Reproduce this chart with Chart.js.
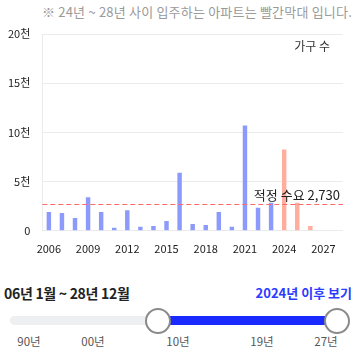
<!DOCTYPE html>
<html><head><meta charset="utf-8">
<script src="https://cdn.jsdelivr.net/npm/chart.js@4/dist/chart.umd.min.js"></script>
<style>
html,body{margin:0;padding:0;background:#fff;font-family:"Noto Sans CJK KR","Noto Sans",sans-serif;}
#wrap{position:relative;width:359px;height:358px;overflow:hidden;}
#note{position:absolute;right:7px;top:2px;font-size:13px;color:#9a9a9a;white-space:nowrap;letter-spacing:0.2px;}
#cv{position:absolute;left:0;top:0;}
#range{position:absolute;left:4px;top:283px;font-size:14px;font-weight:bold;color:#222;letter-spacing:-0.3px;}
#after{position:absolute;right:7px;top:283px;font-size:13px;font-weight:bold;color:#2b3cff;}
#track{position:absolute;left:10px;top:316px;width:337px;height:9px;border-radius:5px;background:#eeeff1;}
#active{position:absolute;left:158px;top:316px;width:179px;height:9px;background:#1a2aff;}
.knob{position:absolute;top:308px;width:22px;height:22px;border-radius:50%;border:2px solid #8a8a8a;background:#fff;}
.lbl{position:absolute;top:333px;font-size:11.5px;color:#555;transform:translateX(-50%);}
</style></head>
<body><div id="wrap">
<div id="note">※ 24년 ~ 28년 사이 입주하는 아파트는 빨간막대 입니다.</div>
<canvas id="cv" width="359" height="268"></canvas>
<div id="range">06년 1월 ~ 28년 12월</div>
<div id="after">2024년 이후 보기</div>
<div id="track"></div><div id="active"></div>
<div class="knob" style="left:145px"></div><div class="knob" style="left:324px"></div>
<div class="lbl" style="left:29px">90년</div>
<div class="lbl" style="left:93px">00년</div>
<div class="lbl" style="left:178px">10년</div>
<div class="lbl" style="left:262px">19년</div>
<div class="lbl" style="left:326px">27년</div>
</div>
<script>
const years = ["2006","2007","2008","2009","2010","2011","2012","2013","2014","2015","2016","2017","2018","2019","2020","2021","2022","2023","2024","2025","2026","2027","2028"];
const households = [1900,1800,1300,3400,1900,300,2100,400,500,1000,5900,700,600,1900,400,10700,2350,2850,8250,2850,500,0,0];
const yTicks = [0,5000,10000,15000,20000];
const yTickLabels = ["0","5천","10천","15천","20천"];
const demand = 2730;
const demandLabel = "적정 수요 2,730";
const unitLabel = "가구 수";
const futureFrom = 2024;

const barColors = years.map(y => (+y >= futureFrom) ? "#ffae9e" : "#8c9bfb");
const FONT = '"Noto Sans CJK KR","Noto Sans",sans-serif';

const overlay = {
  id:'overlay',
  afterDatasetsDraw(chart){
    const {ctx, chartArea:a, scales:{y}} = chart;
    const py = Math.round(y.getPixelForValue(demand)) + 0.5;
    ctx.save();
    ctx.strokeStyle = '#ff6b6b';
    ctx.lineWidth = 1;
    ctx.setLineDash([5,3]);
    ctx.beginPath(); ctx.moveTo(a.left, py); ctx.lineTo(a.right, py); ctx.stroke();
    ctx.setLineDash([]);
    ctx.fillStyle = '#222';
    ctx.font = '13px ' + FONT;
    ctx.textAlign = 'right'; ctx.textBaseline = 'bottom';
    ctx.fillText(demandLabel, a.right - 3, py - 3);
    ctx.font = '12px ' + FONT;
    ctx.fillStyle = '#333';
    ctx.textBaseline = 'middle';
    ctx.fillText(unitLabel, a.right - 13, a.top + 12);
    ctx.restore();
  }
};

new Chart(document.getElementById('cv'), {
  type:'bar',
  data:{ labels: years, datasets:[{ data: households, backgroundColor: barColors, barPercentage:0.34, categoryPercentage:1 }]},
  options:{
    responsive:false, animation:false,
    layout:{ padding:{ left:-4, right:16, top:34, bottom:2 } },
    plugins:{ legend:{display:false}, tooltip:{enabled:false} },
    scales:{
      x:{
        grid:{ display:true, drawTicks:false, color:(c)=> (c.index===0 || c.index===years.length) ? '#ebebeb' : 'rgba(0,0,0,0)' },
        border:{ display:false },
        ticks:{ autoSkip:false, maxRotation:0, padding:11, color:'#222', font:{ size:11, family:FONT },
          callback:(v,i)=> i%3===0 ? years[i] : '' }
      },
      y:{
        min:0, max:20000,
        afterBuildTicks:(s)=>{ s.ticks = yTicks.map(v=>({value:v})); },
        grid:{ color:'#ebebeb', drawTicks:false },
        border:{ display:false },
        ticks:{ padding:12, color:'#222', font:{ size:11, family:FONT },
          callback:(v)=> yTickLabels[yTicks.indexOf(v)] }
      }
    }
  },
  plugins:[overlay]
});
</script>
</body></html>
